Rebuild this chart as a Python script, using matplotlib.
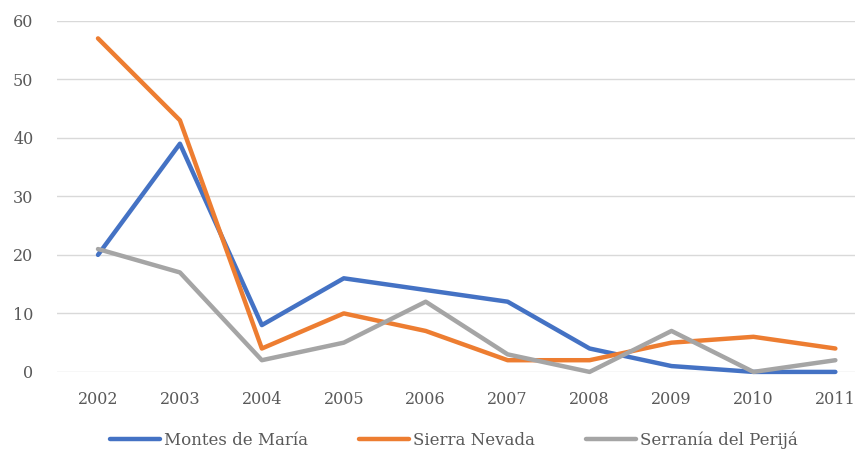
import matplotlib
matplotlib.use('Agg')
import matplotlib.pyplot as plt

years = ['2002', '2003', '2004', '2005', '2006', '2007', '2008', '2009', '2010', '2011']
montes = [20, 39, 8, 16, 14, 12, 4, 1, 0, 0]
sierra = [57, 43, 4, 10, 7, 2, 2, 5, 6, 4]
perija = [21, 17, 2, 5, 12, 3, 0, 7, 0, 2]

series = [('Montes de María', montes, '#4472c4'),
          ('Sierra Nevada', sierra, '#ed7d31'),
          ('Serranía del Perijá', perija, '#a5a5a5')]

TX = '#595959'
plt.rcParams['font.family'] = ['DejaVu Serif']

fig = plt.figure(figsize=(8.64, 4.53), dpi=100)
ax = fig.add_axes([0.066, 0.179, 0.924, 0.775])

x = range(len(years))
for name, vals, col in series:
    ax.plot(x, vals, color=col, lw=3.2, label=name, solid_capstyle='round', solid_joinstyle='round', clip_on=False)

ax.set_xlim(-0.5, 9.244)
ax.set_ylim(0, 60)
ax.set_yticks(range(0, 61, 10))
ax.set_xticks(list(x))
ax.set_xticklabels(years)
ax.grid(axis='y', color='#d9d9d9', lw=1)
ax.set_axisbelow(True)
for s in ax.spines.values():
    s.set_visible(False)
ax.tick_params(length=0, labelsize=11.5, colors=TX, pad=14)
ax.tick_params(axis='y', pad=17)

ax.legend(loc='center', bbox_to_anchor=(0.497, -0.195), ncol=3, frameon=False,
          fontsize=12, labelcolor=TX, handlelength=3.0, handletextpad=0.2, columnspacing=3.1)

fig.savefig('out.png', dpi=100)
